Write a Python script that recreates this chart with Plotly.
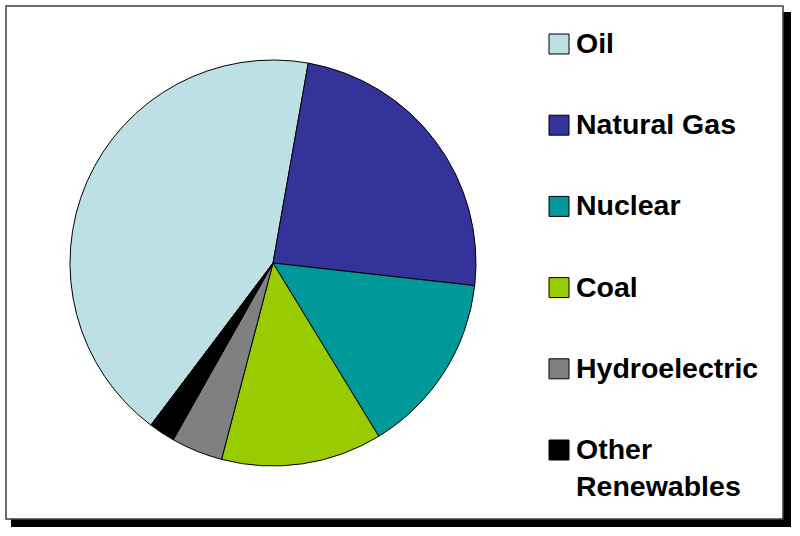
import plotly.graph_objs as go

# data (percent of total)
labels = ["Oil", "Natural Gas", "Nuclear", "Coal", "Hydroelectric", "Other Renewables"]
legend_text = ["Oil", "Natural Gas", "Nuclear", "Coal", "Hydroelectric", "Other<br>Renewables"]
values = [42.5, 24.0, 14.5, 12.8, 4.1, 2.1]
colors = ["#BCE0E3", "#333399", "#009999", "#99CC00", "#808080", "#000000"]

W, H = 800, 536


def px(x):
    return x / W


def py(y):
    return 1 - y / H


fig = go.Figure()

fig.add_trace(go.Pie(
    labels=labels,
    values=values,
    sort=False,
    direction="clockwise",
    rotation=217,
    textinfo="none",
    marker=dict(colors=colors, line=dict(color="black", width=1)),
    domain=dict(x=[px(70), px(476)], y=[py(466), py(60)]),
    showlegend=False))

# Rahmen mit Schatten
shapes = [
    dict(type="rect", xref="paper", yref="paper", layer="below",
         x0=px(11), x1=px(791), y0=py(527), y1=py(12),
         fillcolor="black", line=dict(width=0)),
    dict(type="rect", xref="paper", yref="paper", layer="below",
         x0=px(6), x1=px(783), y0=py(519), y1=py(6),
         fillcolor="white", line=dict(color="#404040", width=1.5)),
]

# Legende von Hand, damit der Abstand stimmt
annotations = []
for i, (txt, col) in enumerate(zip(legend_text, colors)):
    yc = 44 + i * 81.2
    shapes.append(dict(type="rect", xref="paper", yref="paper",
                       x0=px(549), x1=px(569), y0=py(yc + 10), y1=py(yc - 10),
                       fillcolor=col, line=dict(color="black", width=1)))
    annotations.append(dict(xref="paper", yref="paper", x=px(574), y=py(yc - 19),
                            xanchor="left", yanchor="top", showarrow=False,
                            align="left", text="<b>" + txt + "</b>",
                            font=dict(family="Liberation Sans, Arial", size=28.5, color="black")))

fig.update_layout(
    width=W, height=H,
    margin=dict(l=0, r=0, t=0, b=0),
    paper_bgcolor="white",
    plot_bgcolor="white",
    shapes=shapes,
    annotations=annotations)

# Seitenrand vom Browser weg, ohne Modebar
fig.write_html("out.html", config={"displayModeBar": False},
               post_script="document.body.style.margin='0';")
